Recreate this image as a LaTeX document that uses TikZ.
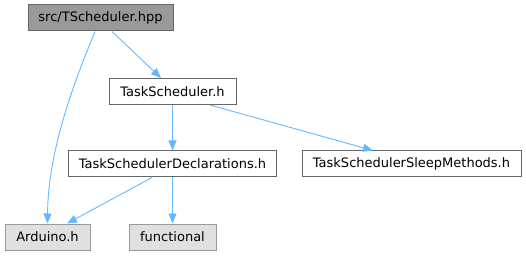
\documentclass[tikz,border=0pt]{standalone}
\usepackage{fontspec}
\setmainfont{DejaVu Sans}
\usetikzlibrary{arrows.meta,calc}
\definecolor{edgeblue}{HTML}{63B8FF}
\definecolor{darkframe}{HTML}{666666}
\definecolor{lightframe}{HTML}{999999}
\definecolor{curfill}{HTML}{999999}
\definecolor{extfill}{HTML}{E0E0E0}
\begin{document}
\begin{tikzpicture}[x=1pt,y=-1pt,
  filebox/.style={draw=darkframe,fill=white,line width=1pt,minimum height=26pt,
    inner sep=0pt,font=\fontsize{13}{15}\selectfont,text=black},
  curbox/.style={filebox,fill=curfill},
  extbox/.style={filebox,draw=lightframe,fill=extfill},
  edge/.style={draw=edgeblue,line width=0.9pt,
    -{Triangle[length=10pt,width=8pt]}}]
\useasboundingbox (0,0) rectangle (526,256);
\node[curbox,minimum width=145pt] (hpp) at (100.5,18) {src/TScheduler.hpp};
\node[filebox,minimum width=127pt] (ts) at (172.5,91.5) {TaskScheduler.h};
\node[filebox,minimum width=208pt] (decl) at (172.5,164) {TaskSchedulerDeclarations.h};
\node[filebox,minimum width=219pt] (sleep) at (411.5,164) {TaskSchedulerSleepMethods.h};
\node[extbox,minimum width=85pt] (ard) at (47.5,237) {Arduino.h};
\node[extbox,minimum width=87pt] (func) at (172.5,237) {functional};
\draw[edge] ($(hpp.south)+(11.5,0)$) -- ($(ts.north)+(-11.5,0)$);
\draw[edge] ($(hpp.south)+(-5.5,0)$) .. controls (75,80) and (48,150) .. (ard.north);
\draw[edge] (ts.south) -- (decl.north);
\draw[edge] ($(ts.south)+(37.5,0)$) -- ($(sleep.north)+(-38.5,0)$);
\draw[edge] ($(decl.south)+(-20.5,0)$) -- ($(ard.north)+(19.5,0)$);
\draw[edge] (decl.south) -- (func.north);
\end{tikzpicture}
\end{document}
